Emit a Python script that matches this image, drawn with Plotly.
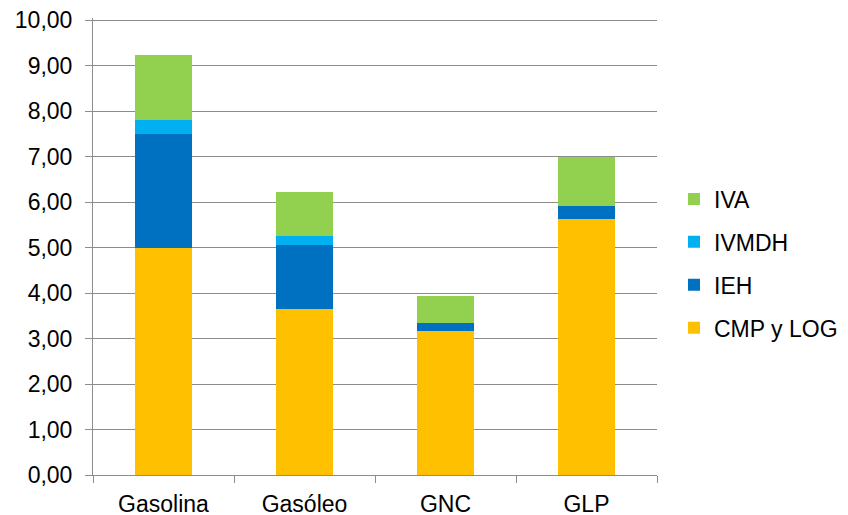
import plotly.graph_objects as go

categories = ["Gasolina", "Gasóleo", "GNC", "GLP"]
cmp_log = [4.99, 3.64, 3.17, 5.62]
ieh = [2.50, 1.41, 0.16, 0.29]
ivmdh = [0.31, 0.21, 0.00, 0.00]
iva = [1.42, 0.96, 0.61, 1.07]

series = [
    ("CMP y LOG", cmp_log, "#FFC000", 4),
    ("IEH", ieh, "#0070C0", 3),
    ("IVMDH", ivmdh, "#00B0F0", 2),
    ("IVA", iva, "#92D050", 1),
]

fig = go.Figure()
for name, vals, color, rank in series:
    fig.add_trace(go.Bar(
        x=categories, y=vals, name=name, legendgroup=name, legendrank=rank,
        marker=dict(color=color, line=dict(width=0)),
    ))

PPU = 45.5
L, R, T, B = 85, 649, 10, 467
y_top = (B - T) / PPU

fig.update_layout(
    barmode="stack",
    bargap=0.595,
    width=848, height=515,
    margin=dict(l=L, r=848 - R, t=T, b=515 - B, autoexpand=False),
    paper_bgcolor="white", plot_bgcolor="white",
    separators=",.",
    font=dict(family="Liberation Sans, Arial, sans-serif", size=23, color="#000000"),
    legend=dict(
        traceorder="grouped", tracegroupgap=10,
        x=(666 - L) / (R - L), xanchor="left", y=(B - 255.5) / (B - T), yanchor="middle",
        font=dict(size=23), bgcolor="rgba(0,0,0,0)",
    ),
    xaxis=dict(
        showline=True, linecolor="#8C8C8C", linewidth=1,
        ticks="outside", tickson="boundaries", ticklen=7, tickcolor="#8C8C8C",
        showgrid=False, ticklabelstandoff=8,
    ),
    yaxis=dict(
        range=[0, y_top], tick0=0, dtick=1, tickformat=".2f",
        showgrid=True, gridcolor="#8C8C8C", gridwidth=1,
        showline=True, linecolor="#8C8C8C", linewidth=1,
        ticks="outside", ticklen=7, tickcolor="#8C8C8C",
        ticklabelstandoff=8, zeroline=False, ticklabeloverflow="allow",
    ),
)

fig.write_html("out.html")
